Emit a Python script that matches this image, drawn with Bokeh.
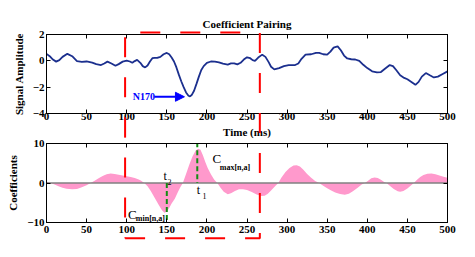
from bokeh.plotting import figure
from bokeh.models import LinearAxis, FixedTicker, Label, Arrow, NormalHead, Range1d
from bokeh.layouts import column
from bokeh.embed import file_html
from bokeh.resources import INLINE

# ---------------- data ----------------
sig_t = [0, 4, 8, 12, 16, 20, 26, 32, 38, 44, 50, 57, 62, 68, 72, 76, 81, 86, 90, 95,
         100, 104, 107, 110, 113, 117, 120, 123, 126, 129, 132, 135, 138, 142, 146, 150,
         153, 156, 159, 162, 165, 168, 171, 174, 177, 179, 181, 184, 187, 190, 193, 196,
         200, 205, 210, 215, 220, 226, 230, 234, 238, 242, 246, 250, 254, 257, 260, 264,
         269, 273, 277, 280, 284, 290, 296, 302, 310, 314, 318, 323, 330, 336, 340, 345,
         350, 354, 358, 363, 367, 371, 375, 380, 385, 390, 395, 400, 406, 412, 417, 422,
         428, 432, 436, 441, 446, 450, 455, 460, 464, 468, 473, 478, 483, 488, 494, 500]
sig_v = [0.53, 0.35, 0.1, -0.06, 0.05, 0.3, 0.53, 0.35, -0.03, -0.08, -0.05, -0.14, -0.25,
         -0.32, -0.2, -0.06, -0.2, -0.37, -0.25, -0.06, 0.02, -0.05, -0.15, -0.02, 0.07,
         -0.15, -0.4, -0.5, -0.35, -0.05, 0.2, 0.23, 0.22, 0.3, 0.5, 0.6, 0.5, 0.25, -0.05,
         -0.5, -1.05, -1.55, -2.0, -2.4, -2.65, -2.7, -2.6, -2.27, -1.75, -1.2, -0.7, -0.4,
         -0.15, -0.05, -0.06, -0.12, -0.22, -0.29, -0.2, -0.19, -0.27, -0.15, 0.1, 0.27,
         0.2, 0.05, 0.0, 0.25, 0.47, 0.3, -0.1, -0.45, -0.65, -0.55, -0.4, -0.32, -0.32,
         -0.2, 0.15, 0.47, 0.5, 0.6, 0.6, 0.5, 0.47, 0.7, 1.0, 1.1, 0.8, 0.4, 0.18, 0.12,
         0.1, 0.0, -0.3, -0.55, -0.8, -0.88, -0.85, -0.6, -0.32, -0.4, -0.7, -1.1, -1.3,
         -1.4, -1.6, -1.82, -1.6, -1.2, -0.93, -1.1, -1.26, -1.2, -1.0, -0.8]

coef_t = [0, 5, 10, 15, 20, 25, 32, 38, 44, 50, 55, 60, 65, 70, 75, 80, 85, 90, 95, 100,
          105, 110, 115, 118, 122, 126, 130, 135, 140, 144, 147, 150, 153, 156, 160, 164,
          167, 170, 174, 178, 182, 186, 189, 192, 195, 198, 201, 205, 209, 213, 217, 221,
          226, 230, 235, 240, 245, 250, 256, 262, 268, 272, 276, 280, 285, 289, 293, 298,
          303, 308, 312, 316, 320, 325, 330, 335, 340, 345, 350, 355, 360, 366, 372, 377,
          382, 388, 393, 397, 401, 405, 409, 413, 417, 421, 424, 428, 433, 438, 441, 445,
          450, 454, 458, 462, 466, 470, 475, 480, 485, 490, 495, 500]
coef_v = [0.3, 0.0, -0.4, -0.8, -1.2, -1.45, -1.6, -1.5, -1.1, -0.55, 0.0, 0.6, 1.2, 1.8,
          2.2, 2.4, 2.3, 2.1, 1.9, 1.7, 1.5, 1.25, 0.9, 0.55, 0.0, -0.8, -2.0, -3.8, -5.6,
          -6.9, -7.5, -7.2, -6.3, -5.2, -4.0, -2.2, -1.0, 0.0, 2.3, 4.6, 6.7, 8.2, 8.7, 8.4,
          7.0, 5.3, 3.8, 2.2, 0.9, 0.0, -1.2, -2.2, -2.85, -2.6, -2.0, -1.6, -1.6, -1.8,
          -2.3, -2.9, -3.3, -3.2, -2.7, -1.9, -0.8, 0.0, 1.4, 2.8, 3.8, 4.4, 4.5, 4.2, 3.4,
          2.3, 1.3, 0.5, 0.0, -0.7, -1.3, -1.9, -2.4, -2.8, -2.95, -2.7, -2.1, -1.2, -0.4,
          0.0, 0.6, 1.2, 1.4, 1.25, 0.8, 0.25, 0.0, -0.7, -1.5, -2.1, -2.2, -2.0, -1.4,
          -0.7, 0.0, 0.8, 1.5, 2.0, 2.35, 2.4, 2.2, 1.9, 1.6, 1.3]

x_ticks = [0, 50, 100, 150, 200, 250, 300, 350, 400, 450, 500]
top_y_ticks = [-4, -2, 0, 2]
bot_y_ticks = [-10, 0, 10]
window_t = [98, 266]          # selected window (ms)
t1_pos = 188                  # time of C_max
t2_pos = 150                  # time of C_min

# ---------------- style ----------------
FONT = "Liberation Serif"
FW, FH = 401, 79
LB, RB = 46, 21
TOP1 = 34          # page y of the upper frame top
TOP2 = 143         # page y of the lower frame top
RED = "#ff0000"
GREEN = "#128c12"
BLUE_LINE = "#1b2f8e"
PINK = "#ff99cc"


def style_fig(p, yticks):
    p.outline_line_color = "black"
    p.outline_line_width = 1
    p.xgrid.visible = False
    p.ygrid.visible = False
    p.background_fill_color = "white"
    xa, ya = p.below[0], p.left[0]
    for ax in (xa, ya):
        ax.major_label_text_font = FONT
        ax.major_label_text_font_size = "11px"
        ax.major_label_text_font_style = "bold"
        ax.major_label_text_color = "black"
        ax.axis_label_text_font = FONT
        ax.axis_label_text_font_size = "11px"
        ax.axis_label_text_font_style = "bold"
        ax.axis_label_text_color = "black"
        ax.major_tick_in = 4
        ax.major_tick_out = 0
        ax.minor_tick_line_color = None
        ax.axis_line_color = "black"
        ax.major_tick_line_color = "black"
    xa.major_label_standoff = -1
    xa.axis_label_standoff = 3
    ya.major_label_standoff = 2
    ya.axis_label_standoff = 5
    xa.ticker = FixedTicker(ticks=x_ticks)
    ya.ticker = FixedTicker(ticks=yticks)
    for side, tks in (("above", x_ticks), ("right", yticks)):
        ax = LinearAxis(ticker=FixedTicker(ticks=tks))
        ax.major_label_overrides = {t: "" for t in tks}
        ax.major_label_text_font_size = "1px"
        ax.major_label_standoff = 0
        ax.major_tick_in = 4
        ax.major_tick_out = 0
        ax.minor_tick_line_color = None
        ax.axis_line_color = "black"
        ax.major_tick_line_color = "black"
        p.add_layout(ax, side)


# ---------------- top figure ----------------
p1 = figure(frame_width=FW, frame_height=FH, x_range=Range1d(0, 500), y_range=Range1d(-4, 2),
            output_backend="svg", toolbar_location=None,
            min_border_left=LB, min_border_right=RB, min_border_top=TOP1, min_border_bottom=27)
p1.border_fill_color = "white"
p1.title.text = "Coefficient Pairing"
p1.title.align = "center"
p1.title.text_font = FONT
p1.title.text_font_size = "11px"
p1.title.text_font_style = "bold"
p1.title.text_color = "black"
p1.title.standoff = 9
style_fig(p1, top_y_ticks)
p1.below[0].axis_label = "Time (ms)"
p1.left[0].axis_label = "Signal Amplitude"

p1.line(sig_t, sig_v, line_color=BLUE_LINE, line_width=1.8)

p1.add_layout(Label(x=107.5, y=-2.73, text="N170", text_font=FONT, text_font_size="10px",
                    text_font_style="bold", text_color="#0000ff", text_baseline="middle"))
p1.add_layout(Arrow(x_start=134.5, y_start=-2.73, x_end=172, y_end=-2.73,
                    line_color="#0000ff", line_width=2,
                    end=NormalHead(size=9, fill_color="#0000ff", line_color="#0000ff")))

# ---------------- bottom figure (slightly overlapping the upper one, transparent border) ----
p2 = figure(frame_width=FW, frame_height=FH, x_range=Range1d(0, 500), y_range=Range1d(-10, 10),
            output_backend="svg", toolbar_location=None,
            min_border_left=LB, min_border_right=RB, min_border_top=6, min_border_bottom=27)
p2.border_fill_color = None
p2.margin = (-3, 0, 0, 0)
style_fig(p2, bot_y_ticks)
p2.below[0].major_label_standoff = 3
p2.left[0].axis_label = "Coefficients"

p2.varea(x=coef_t, y1=0, y2=coef_v, fill_color=PINK)
p2.line([0, 500], [0, 0], line_color="#808080", line_width=1.5)
p2.line([t1_pos, t1_pos], [10.3, 0], line_color=GREEN, line_width=2, line_dash="5 3")
p2.line([t2_pos, t2_pos], [0, -9.6], line_color=GREEN, line_width=2, line_dash="5 3")


def lab(p, x, y, text, size, bold=False):
    p.add_layout(Label(x=x, y=y, text=text, text_font=FONT, text_font_size=size,
                       text_font_style="bold" if bold else "normal", text_color="black",
                       text_baseline="middle", text_align="left"))


lab(p2, 207, 6.2, "C", "13px")
lab(p2, 216, 4.0, "max[n,a]", "8px", True)
lab(p2, 101.7, -8.0, "C", "13px")
lab(p2, 111.4, -9.06, "min[n,a]", "8px", True)
lab(p2, 145.9, 1.65, "t", "12px")
lab(p2, 150.9, 0.2, "2", "8px")
lab(p2, 187.4, -1.85, "t", "12px")
lab(p2, 194.5, -3.2, "1", "8px")

# ---------------- dashed selection rectangle spanning both panels ----------------
PX_X = FW / 500.0


def top_px(v):
    return TOP1 + (2 - v) * FH / 6.0


def bot_px(v):
    return TOP2 + (10 - v) * FH / 20.0


RECT_TOP, RECT_BOT = 2.15, -14.0
L, R = window_t
W = (R - L) * PX_X
y_top = top_px(RECT_TOP)
y_bot = bot_px(RECT_BOT)
H = y_bot - y_top
DASH = "20 20"

# upper part: right side up, top edge, left side down
v_s = -7.0
off_top = int(round(W + (y_bot - top_px(v_s)))) % 40
p1.line([R, R, L, L], [v_s, RECT_TOP, RECT_TOP, v_s], line_color=RED, line_width=2,
        line_dash=DASH, line_dash_offset=off_top, level="overlay")
# lower part
v_b = 12.0
off_left = int(round(2 * W + H + (bot_px(v_b) - y_top))) % 40
p2.line([L, L], [v_b, RECT_BOT], line_color=RED, line_width=2,
        line_dash=DASH, line_dash_offset=off_left, level="overlay")
p2.line([L, R, R], [RECT_BOT, RECT_BOT, v_b], line_color=RED, line_width=2,
        line_dash=DASH, line_dash_offset=0, level="overlay")

layout = column(p1, p2, spacing=0)
open("out.html", "w").write(file_html(layout, INLINE))
